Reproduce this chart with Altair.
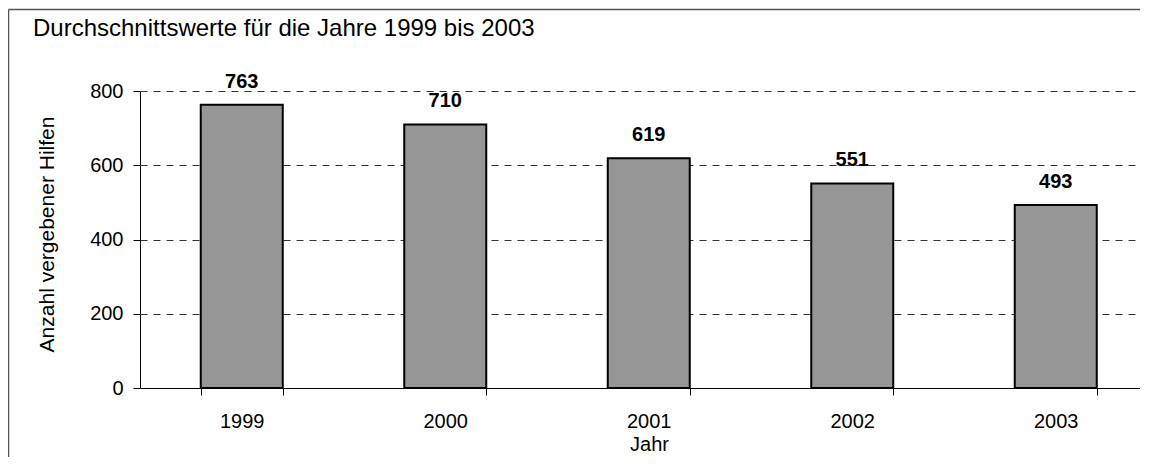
import altair as alt
import pandas as pd

# ---- data ----
years = ["1999", "2000", "2001", "2002", "2003"]
values = [763, 710, 619, 551, 493]
y_ticks = [0, 200, 400, 600, 800]
title_text = "Durchschnittswerte für die Jahre 1999 bis 2003"
y_title = "Anzahl vergebener Hilfen"
x_title = "Jahr"

FONT = "Liberation Sans"

df = pd.DataFrame({"Jahr": years, "Wert": values})
deco = pd.DataFrame({"t": [title_text]})

x_enc = alt.X(
    "Jahr:N",
    sort=years,
    scale=alt.Scale(range=[0, 1017.5], paddingInner=0.597, paddingOuter=0.2985),
    axis=alt.Axis(
        title=x_title, labelAngle=0, tickBand="extent", tickSize=7,
        domainColor="black", tickColor="black", domainWidth=1, tickWidth=1,
        labelPadding=16, labelBaseline="top", labelFontSize=20, labelFont=FONT,
        labelColor="black", titleFont=FONT, titleFontSize=20,
        titleFontWeight="normal", titleColor="black", titleX=509, titleY=62,
        titleBaseline="alphabetic", titleAlign="center", grid=False,
    ),
)
y_enc = alt.Y(
    "Wert:Q",
    scale=alt.Scale(domain=[0, 800], nice=False),
    axis=alt.Axis(
        title=y_title, values=y_ticks, tickSize=7, labelPadding=10,
        labelFontSize=20, labelFont=FONT, labelColor="black",
        domainColor="black", tickColor="black", domainWidth=1, tickWidth=1,
        grid=True, gridDash=[7, 6], gridColor="#333333", gridWidth=1,
        titleFont=FONT, titleFontSize=21, titleFontWeight="normal",
        titleColor="black", titleX=-87, titleY=143, titleAngle=270,
        titleBaseline="alphabetic", titleAlign="center",
    ),
)

bars = alt.Chart(df).mark_bar(color="#969696", stroke="black", strokeWidth=2).encode(
    x=x_enc, y=y_enc
)
labels = alt.Chart(df).mark_text(
    dy=-17, baseline="alphabetic", fontSize=20, fontWeight="bold", font=FONT, color="black"
).encode(x=alt.X("Jahr:N", sort=years), y="Wert:Q", text="Wert:Q")

title = alt.Chart(deco).mark_text(
    align="left", baseline="alphabetic", fontSize=24, font=FONT, color="black"
).encode(x=alt.value(-107), y=alt.value(-55), text="t:N")

frame_left = alt.Chart(deco).mark_rule(color="#555555", strokeWidth=1.5).encode(
    x=alt.value(-131.5), y=alt.value(-81.5), y2=alt.value(400)
)
frame_top = alt.Chart(deco).mark_rule(color="#555555", strokeWidth=1.5).encode(
    x=alt.value(-131.5), x2=alt.value(1200), y=alt.value(-81.5)
)

chart = alt.layer(frame_left, frame_top, bars, labels, title).properties(
    width=1000,
    height=297,
    padding={"left": 132, "top": 83, "right": 0, "bottom": 69},
    autosize=alt.AutoSizeParams(type="none"),
    background="white",
).configure_view(stroke=None)

chart.save("out.html", embed_options={"renderer": "svg", "actions": False})
